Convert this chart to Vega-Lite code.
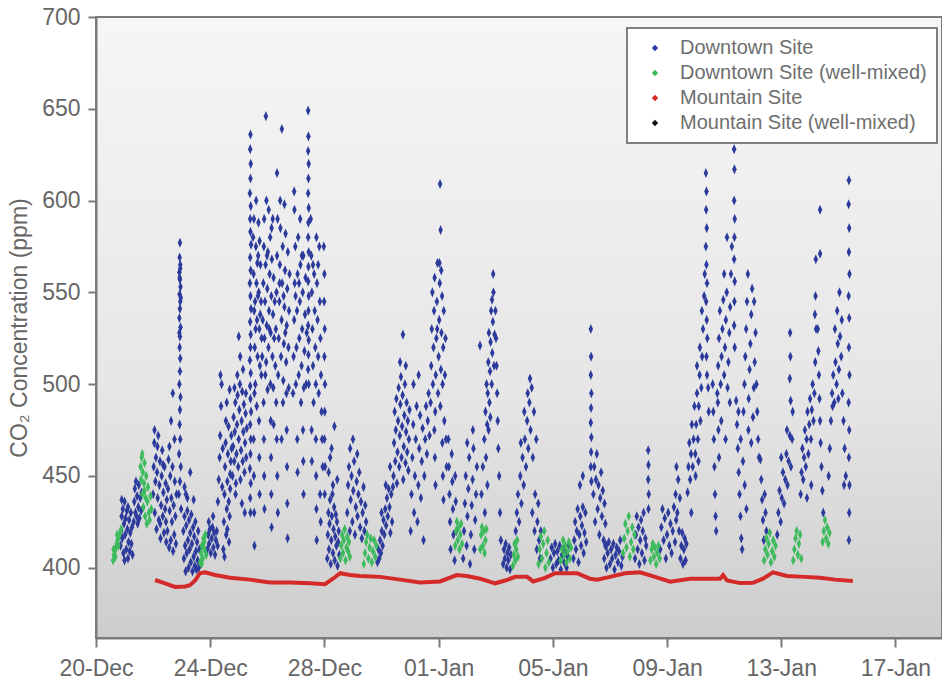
{
"$schema": "https://vega.github.io/schema/vega-lite/v6.json",
"width": 846, "height": 621,
"autosize": {"type": "none"},
"padding": {"left": 96, "top": 17, "right": 0, "bottom": 48},
"background": "#ffffff",
"config": {
 "font": "Liberation Sans",
 "view": {"fill": {"gradient": "linear", "x1": 0, "y1": 0, "x2": 0, "y2": 1, "stops": [{"offset": 0, "color": "#f6f6f6"}, {"offset": 0.6, "color": "#e6e6e6"}, {"offset": 1, "color": "#cdcdcd"}]}, "stroke": "#7a7a7a", "strokeWidth": 2},
 "axis": {"domainColor": "#7a7a7a", "domainWidth": 2, "tickColor": "#7a7a7a", "tickWidth": 2, "labelColor": "#666666", "labelFontSize": 23, "grid": false, "titleColor": "#666666", "titleFontSize": 23, "titleFontWeight": "normal"},
 "legend": {"orient": "none", "legendX": 531, "legendY": 11, "padding": 10, "strokeColor": "#7f7f7f", "strokeWidth": 2, "fillColor": "#ffffff", "labelFontSize": 20, "labelColor": "#6e6e6e", "labelLimit": 0, "symbolType": "diamond", "symbolSize": 40, "rowPadding": 5, "labelOffset": 15, "symbolOffset": 8, "symbolStrokeWidth": 0, "cornerRadius": 0}
},
"datasets": {
"dt": [
{"d":0.86,"v":412},{"d":0.88,"v":420},{"d":0.90,"v":428},{"d":0.92,"v":416},{"d":0.94,"v":432},{"d":0.96,"v":408},{"d":0.98,"v":424},{"d":1.00,"v":436},{"d":1.02,"v":418},{"d":1.04,"v":427},{"d":1.06,"v":410},{"d":1.08,"v":431},{"d":1.10,"v":421},{"d":1.12,"v":405},{"d":1.14,"v":414},{"d":1.16,"v":426},{"d":1.18,"v":409},{"d":1.20,"v":419},{"d":1.22,"v":430},{"d":1.24,"v":413},{"d":1.26,"v":422},{"d":1.28,"v":407},{"d":0.90,"v":437},{"d":1.00,"v":404},{"d":1.12,"v":433},
{"d":1.32,"v":425},{"d":1.34,"v":436},{"d":1.36,"v":443},{"d":1.38,"v":430},{"d":1.40,"v":447},{"d":1.42,"v":428},{"d":1.44,"v":439},{"d":1.46,"v":424},{"d":1.48,"v":433},{"d":1.50,"v":445},{"d":1.52,"v":427},{"d":1.55,"v":438},{"d":1.58,"v":431},{"d":1.60,"v":441},
{"d":2.00,"v":440},{"d":2.02,"v":455},{"d":2.04,"v":468},{"d":2.06,"v":430},{"d":2.08,"v":447},{"d":2.10,"v":460},{"d":2.12,"v":421},{"d":2.14,"v":452},{"d":2.16,"v":438},{"d":2.18,"v":472},{"d":2.20,"v":426},{"d":2.22,"v":445},{"d":2.24,"v":458},{"d":2.26,"v":416},{"d":2.28,"v":434},{"d":2.30,"v":450},{"d":2.32,"v":464},{"d":2.34,"v":428},{"d":2.36,"v":441},{"d":2.38,"v":419},{"d":2.40,"v":455},{"d":2.42,"v":432},{"d":2.44,"v":446},{"d":2.46,"v":414},{"d":2.48,"v":437},{"d":2.05,"v":475},{"d":2.15,"v":466},{"d":2.25,"v":424},{"d":2.35,"v":456},{"d":2.45,"v":425},
{"d":2.50,"v":420},{"d":2.52,"v":443},{"d":2.54,"v":459},{"d":2.56,"v":411},{"d":2.58,"v":431},{"d":2.60,"v":450},{"d":2.62,"v":415},{"d":2.64,"v":438},{"d":2.66,"v":425},{"d":2.68,"v":455},{"d":2.70,"v":409},{"d":2.72,"v":434},{"d":2.74,"v":418},{"d":2.76,"v":447},{"d":2.78,"v":428},{"d":2.80,"v":413},{"d":2.82,"v":440},{"d":2.57,"v":466},{"d":2.63,"v":480},{"d":2.69,"v":495},{"d":2.75,"v":470},
{"d":2.94,"v":577},{"d":2.93,"v":569},{"d":2.95,"v":565},{"d":2.92,"v":561},{"d":2.94,"v":557},{"d":2.96,"v":553},{"d":2.93,"v":549},{"d":2.95,"v":545},{"d":2.94,"v":541},{"d":2.92,"v":536},{"d":2.96,"v":531},{"d":2.94,"v":526},{"d":2.93,"v":520},{"d":2.95,"v":514},{"d":2.94,"v":507},{"d":2.92,"v":500},{"d":2.96,"v":493},{"d":2.94,"v":486},{"d":2.93,"v":478},{"d":2.95,"v":470},{"d":2.91,"v":462},{"d":2.97,"v":455},{"d":2.94,"v":447},{"d":2.90,"v":440},{"d":2.98,"v":432},{"d":2.95,"v":563},{"d":2.93,"v":558},{"d":2.97,"v":547},{"d":2.92,"v":528},
{"d":3.06,"v":420},{"d":3.08,"v":405},{"d":3.10,"v":428},{"d":3.12,"v":412},{"d":3.14,"v":398},{"d":3.16,"v":423},{"d":3.18,"v":408},{"d":3.20,"v":431},{"d":3.22,"v":415},{"d":3.24,"v":400},{"d":3.26,"v":426},{"d":3.28,"v":410},{"d":3.30,"v":419},{"d":3.32,"v":403},{"d":3.34,"v":429},{"d":3.36,"v":413},{"d":3.38,"v":398},{"d":3.40,"v":422},{"d":3.42,"v":406},{"d":3.44,"v":417},{"d":3.46,"v":401},{"d":3.48,"v":425},{"d":3.50,"v":409},{"d":3.52,"v":399},{"d":3.54,"v":414},{"d":3.56,"v":404},{"d":3.58,"v":420},{"d":3.60,"v":400},{"d":3.62,"v":410},{"d":3.10,"v":444},{"d":3.20,"v":438},{"d":3.30,"v":452},{"d":3.15,"v":440},{"d":3.42,"v":437},
{"d":3.90,"v":410},{"d":3.93,"v":418},{"d":3.96,"v":413},{"d":3.99,"v":421},{"d":4.02,"v":408},{"d":4.05,"v":416},{"d":4.08,"v":422},{"d":4.11,"v":411},{"d":4.14,"v":419},{"d":4.17,"v":407},{"d":4.20,"v":415},{"d":4.23,"v":420},{"d":4.26,"v":412},{"d":3.95,"v":425},{"d":4.10,"v":428},
{"d":4.27,"v":436},{"d":4.30,"v":448},{"d":4.33,"v":460},{"d":4.35,"v":472},{"d":4.38,"v":488},{"d":4.40,"v":500},{"d":4.42,"v":444},{"d":4.44,"v":465},{"d":4.36,"v":505},
{"d":4.46,"v":410},{"d":4.48,"v":425},{"d":4.50,"v":440},{"d":4.52,"v":455},{"d":4.54,"v":468},{"d":4.56,"v":418},{"d":4.58,"v":432},{"d":4.60,"v":447},{"d":4.62,"v":462},{"d":4.64,"v":477},{"d":4.66,"v":414},{"d":4.68,"v":428},{"d":4.70,"v":443},{"d":4.72,"v":458},{"d":4.74,"v":472},{"d":4.50,"v":406},{"d":4.55,"v":480},{"d":4.60,"v":421},{"d":4.65,"v":436},{"d":4.70,"v":451},{"d":4.75,"v":465},{"d":4.58,"v":490},{"d":4.68,"v":497},
{"d":4.78,"v":450},{"d":4.80,"v":466},{"d":4.82,"v":482},{"d":4.84,"v":458},{"d":4.86,"v":474},{"d":4.88,"v":490},{"d":4.90,"v":446},{"d":4.92,"v":462},{"d":4.94,"v":478},{"d":4.96,"v":494},{"d":4.98,"v":455},{"d":5.00,"v":470},{"d":5.02,"v":486},{"d":5.04,"v":500},{"d":5.06,"v":448},{"d":5.08,"v":464},{"d":5.10,"v":480},{"d":5.12,"v":496},{"d":5.14,"v":458},{"d":5.16,"v":474},{"d":5.18,"v":489},{"d":5.20,"v":452},{"d":5.22,"v":468},{"d":5.24,"v":484},{"d":5.26,"v":460},{"d":5.28,"v":476},{"d":4.85,"v":498},{"d":4.95,"v":505},{"d":5.05,"v":515},{"d":5.15,"v":508},{"d":5.25,"v":495},{"d":4.89,"v":440},{"d":5.11,"v":435},{"d":5.21,"v":430},{"d":5.00,"v":526},
{"d":5.41,"v":636},{"d":5.40,"v":628},{"d":5.42,"v":620},{"d":5.41,"v":612},{"d":5.39,"v":604},{"d":5.42,"v":597},{"d":5.40,"v":590},{"d":5.41,"v":583},{"d":5.43,"v":576},{"d":5.40,"v":569},{"d":5.42,"v":562},{"d":5.39,"v":555},{"d":5.41,"v":548},{"d":5.43,"v":541},{"d":5.40,"v":534},{"d":5.42,"v":527},{"d":5.41,"v":520},{"d":5.39,"v":513},{"d":5.42,"v":506},{"d":5.40,"v":499},{"d":5.41,"v":492},{"d":5.43,"v":485},{"d":5.40,"v":478},{"d":5.42,"v":470},{"d":5.41,"v":462},{"d":5.39,"v":454},{"d":5.42,"v":446},{"d":5.40,"v":438},{"d":5.41,"v":430},
{"d":5.50,"v":580},{"d":5.52,"v":560},{"d":5.54,"v":540},{"d":5.56,"v":520},{"d":5.58,"v":500},{"d":5.60,"v":575},{"d":5.62,"v":555},{"d":5.64,"v":535},{"d":5.66,"v":515},{"d":5.68,"v":570},{"d":5.70,"v":550},{"d":5.72,"v":530},{"d":5.74,"v":510},{"d":5.76,"v":565},{"d":5.78,"v":545},{"d":5.80,"v":525},{"d":5.53,"v":590},{"d":5.61,"v":600},{"d":5.69,"v":588},{"d":5.57,"v":545},{"d":5.65,"v":566},{"d":5.73,"v":578},{"d":5.79,"v":505},{"d":5.55,"v":495},{"d":5.63,"v":488},{"d":5.52,"v":470},{"d":5.53,"v":450},{"d":5.54,"v":430},{"d":5.55,"v":412},{"d":5.71,"v":480},{"d":5.72,"v":460},{"d":5.73,"v":440},{"d":5.59,"v":530},{"d":5.67,"v":548},{"d":5.75,"v":538},
{"d":5.82,"v":515},{"d":5.84,"v":535},{"d":5.86,"v":555},{"d":5.88,"v":575},{"d":5.90,"v":525},{"d":5.92,"v":545},{"d":5.94,"v":565},{"d":5.96,"v":512},{"d":5.98,"v":532},{"d":6.00,"v":552},{"d":6.02,"v":572},{"d":6.04,"v":520},{"d":6.06,"v":540},{"d":6.08,"v":560},{"d":6.10,"v":580},{"d":6.12,"v":528},{"d":6.14,"v":548},{"d":6.16,"v":568},{"d":6.18,"v":515},{"d":6.20,"v":538},{"d":6.22,"v":558},{"d":6.24,"v":525},{"d":6.26,"v":545},{"d":5.95,"v":646},{"d":5.97,"v":600},{"d":5.89,"v":590},{"d":6.05,"v":595},{"d":6.15,"v":585},{"d":5.87,"v":490},{"d":5.88,"v":470},{"d":5.89,"v":450},{"d":5.90,"v":432},{"d":6.11,"v":500},{"d":6.12,"v":480},{"d":6.13,"v":460},{"d":6.14,"v":440},{"d":6.15,"v":422},{"d":6.21,"v":498},{"d":6.22,"v":478},{"d":5.93,"v":505},{"d":6.01,"v":497},{"d":6.19,"v":590},{"d":6.07,"v":530},{"d":5.99,"v":570},
{"d":6.28,"v":510},{"d":6.30,"v":530},{"d":6.32,"v":550},{"d":6.34,"v":570},{"d":6.36,"v":590},{"d":6.38,"v":505},{"d":6.40,"v":525},{"d":6.42,"v":545},{"d":6.44,"v":565},{"d":6.46,"v":585},{"d":6.48,"v":515},{"d":6.50,"v":535},{"d":6.52,"v":555},{"d":6.54,"v":575},{"d":6.56,"v":502},{"d":6.58,"v":522},{"d":6.60,"v":542},{"d":6.62,"v":562},{"d":6.64,"v":582},{"d":6.66,"v":512},{"d":6.68,"v":532},{"d":6.70,"v":552},{"d":6.72,"v":572},{"d":6.74,"v":520},{"d":6.76,"v":540},{"d":6.78,"v":560},{"d":6.34,"v":615},{"d":6.51,"v":639},{"d":6.45,"v":600},{"d":6.60,"v":598},{"d":6.31,"v":490},{"d":6.33,"v":470},{"d":6.35,"v":450},{"d":6.37,"v":430},{"d":6.67,"v":495},{"d":6.68,"v":475},{"d":6.69,"v":455},{"d":6.70,"v":435},{"d":6.71,"v":416},{"d":6.55,"v":490},{"d":6.50,"v":470},{"d":6.75,"v":498},{"d":6.43,"v":555},{"d":6.57,"v":548},{"d":6.63,"v":528},
{"d":6.90,"v":495},{"d":6.92,"v":515},{"d":6.94,"v":535},{"d":6.96,"v":555},{"d":6.98,"v":575},{"d":7.00,"v":500},{"d":7.02,"v":520},{"d":7.04,"v":540},{"d":7.06,"v":560},{"d":7.08,"v":580},{"d":7.10,"v":505},{"d":7.12,"v":525},{"d":7.14,"v":545},{"d":7.16,"v":565},{"d":7.18,"v":490},{"d":7.20,"v":510},{"d":7.22,"v":530},{"d":7.24,"v":550},{"d":7.26,"v":570},{"d":7.28,"v":498},{"d":7.30,"v":518},{"d":7.32,"v":538},{"d":7.34,"v":558},{"d":7.36,"v":500},{"d":7.38,"v":528},{"d":6.94,"v":605},{"d":6.95,"v":595},{"d":7.15,"v":590},{"d":7.05,"v":470},{"d":7.06,"v":452},{"d":7.25,"v":475},{"d":7.26,"v":458},{"d":7.27,"v":440},{"d":6.99,"v":548},{"d":7.11,"v":555},{"d":7.21,"v":570},
{"d":7.43,"v":649},{"d":7.44,"v":635},{"d":7.43,"v":627},{"d":7.45,"v":620},{"d":7.44,"v":612},{"d":7.43,"v":604},{"d":7.45,"v":596},{"d":7.44,"v":588},{"d":7.43,"v":580},{"d":7.45,"v":572},{"d":7.44,"v":564},{"d":7.43,"v":556},{"d":7.45,"v":548},{"d":7.44,"v":540},{"d":7.43,"v":532},{"d":7.45,"v":524},{"d":7.44,"v":516},{"d":7.43,"v":508},{"d":7.45,"v":500},
{"d":7.52,"v":590},{"d":7.54,"v":570},{"d":7.56,"v":550},{"d":7.58,"v":530},{"d":7.60,"v":510},{"d":7.62,"v":490},{"d":7.64,"v":560},{"d":7.66,"v":540},{"d":7.68,"v":520},{"d":7.70,"v":500},{"d":7.72,"v":580},{"d":7.74,"v":555},{"d":7.76,"v":535},{"d":7.78,"v":515},{"d":7.80,"v":495},{"d":7.82,"v":575},{"d":7.84,"v":545},{"d":7.86,"v":525},{"d":7.88,"v":505},{"d":7.90,"v":485},{"d":7.92,"v":470},{"d":7.94,"v":455},{"d":7.70,"v":470},{"d":7.71,"v":450},{"d":7.72,"v":432},{"d":7.73,"v":415},{"d":7.55,"v":475},{"d":7.56,"v":458},{"d":7.85,"v":440},{"d":7.87,"v":425},{"d":7.60,"v":565},{"d":7.78,"v":565},
{"d":7.98,"v":575},{"d":8.00,"v":560},{"d":7.99,"v":545},{"d":8.01,"v":530},{"d":8.00,"v":515},{"d":8.02,"v":500},{"d":8.01,"v":485},{"d":8.00,"v":470},{"d":8.02,"v":455},{"d":8.01,"v":440},
{"d":8.10,"v":405},{"d":8.12,"v":418},{"d":8.14,"v":430},{"d":8.16,"v":410},{"d":8.18,"v":424},{"d":8.20,"v":437},{"d":8.22,"v":402},{"d":8.24,"v":415},{"d":8.26,"v":428},{"d":8.28,"v":440},{"d":8.30,"v":408},{"d":8.32,"v":421},{"d":8.34,"v":433},{"d":8.36,"v":404},{"d":8.38,"v":417},{"d":8.40,"v":429},{"d":8.42,"v":412},{"d":8.44,"v":425},{"d":8.46,"v":401},{"d":8.48,"v":414},{"d":8.50,"v":420},{"d":8.52,"v":407},{"d":8.15,"v":452},{"d":8.25,"v":465},{"d":8.35,"v":477},{"d":8.45,"v":448},{"d":8.20,"v":460},{"d":8.30,"v":445},
{"d":8.80,"v":430},{"d":8.83,"v":445},{"d":8.86,"v":455},{"d":8.89,"v":420},{"d":8.92,"v":437},{"d":8.95,"v":450},{"d":8.98,"v":425},{"d":9.01,"v":442},{"d":9.04,"v":458},{"d":9.07,"v":418},{"d":9.10,"v":433},{"d":9.13,"v":447},{"d":9.16,"v":428},{"d":9.19,"v":440},{"d":9.22,"v":452},{"d":9.25,"v":422},{"d":9.28,"v":436},{"d":9.31,"v":416},{"d":9.34,"v":430},{"d":9.37,"v":444},{"d":9.40,"v":420},{"d":9.43,"v":434},{"d":9.46,"v":425},{"d":8.90,"v":465},{"d":9.00,"v":470},{"d":9.15,"v":462},
{"d":9.86,"v":403},{"d":9.89,"v":410},{"d":9.92,"v":405},{"d":9.95,"v":415},{"d":9.98,"v":408},{"d":10.01,"v":420},{"d":10.04,"v":412},{"d":10.07,"v":426},{"d":10.10,"v":418},{"d":10.13,"v":432},{"d":10.16,"v":423},{"d":10.19,"v":438},{"d":10.22,"v":428},{"d":10.25,"v":443},{"d":10.28,"v":433},{"d":10.31,"v":419},{"d":10.34,"v":440},{"d":10.37,"v":425},{"d":10.40,"v":444},{"d":10.00,"v":430},{"d":10.15,"v":445},{"d":10.30,"v":455},
{"d":10.42,"v":450},{"d":10.44,"v":468},{"d":10.46,"v":485},{"d":10.48,"v":458},{"d":10.50,"v":475},{"d":10.52,"v":492},{"d":10.54,"v":446},{"d":10.56,"v":463},{"d":10.58,"v":480},{"d":10.60,"v":498},{"d":10.62,"v":455},{"d":10.64,"v":472},{"d":10.66,"v":489},{"d":10.68,"v":504},{"d":10.70,"v":460},{"d":10.72,"v":477},{"d":10.74,"v":494},{"d":10.76,"v":448},{"d":10.78,"v":466},{"d":10.80,"v":483},{"d":10.82,"v":500},{"d":10.84,"v":457},{"d":10.86,"v":474},{"d":10.88,"v":490},{"d":10.90,"v":463},{"d":10.92,"v":480},{"d":10.94,"v":453},{"d":10.96,"v":470},{"d":10.98,"v":486},{"d":10.75,"v":527},{"d":10.65,"v":512},{"d":10.85,"v":510},
{"d":11.02,"v":420},{"d":11.05,"v":440},{"d":11.08,"v":460},{"d":11.11,"v":478},{"d":11.14,"v":430},{"d":11.17,"v":450},{"d":11.20,"v":470},{"d":11.23,"v":488},{"d":11.26,"v":425},{"d":11.29,"v":445},{"d":11.32,"v":465},{"d":11.35,"v":483},{"d":11.38,"v":438},{"d":11.41,"v":458},{"d":11.44,"v":476},{"d":11.47,"v":415},{"d":11.50,"v":450},{"d":11.53,"v":470},{"d":11.56,"v":488},{"d":11.59,"v":462},{"d":11.62,"v":480},{"d":11.65,"v":495},{"d":11.68,"v":472},{"d":11.12,"v":500},{"d":11.30,"v":505},
{"d":11.72,"v":490},{"d":11.74,"v":510},{"d":11.76,"v":530},{"d":11.78,"v":550},{"d":11.80,"v":500},{"d":11.82,"v":520},{"d":11.84,"v":540},{"d":11.86,"v":558},{"d":11.88,"v":485},{"d":11.90,"v":505},{"d":11.92,"v":525},{"d":11.94,"v":545},{"d":11.96,"v":566},{"d":11.98,"v":495},{"d":12.00,"v":515},{"d":12.02,"v":535},{"d":12.04,"v":555},{"d":12.06,"v":488},{"d":12.08,"v":508},{"d":12.10,"v":528},{"d":12.12,"v":548},{"d":12.14,"v":500},{"d":12.16,"v":520},{"d":12.18,"v":540},{"d":12.20,"v":480},{"d":12.22,"v":505},{"d":12.24,"v":525},{"d":12.26,"v":470},{"d":12.28,"v":455},{"d":12.05,"v":609},{"d":12.07,"v":584},{"d":12.03,"v":566},{"d":11.85,"v":475},{"d":11.87,"v":460},{"d":11.89,"v":445},{"d":12.13,"v":468},{"d":12.15,"v":450},{"d":12.17,"v":437},{"d":11.95,"v":530},{"d":12.09,"v":562},
{"d":12.34,"v":470},{"d":12.36,"v":455},{"d":12.38,"v":440},{"d":12.40,"v":425},{"d":12.42,"v":410},{"d":12.46,"v":462},{"d":12.48,"v":447},{"d":12.50,"v":432},{"d":12.52,"v":418},{"d":12.56,"v":404},{"d":12.58,"v":450},{"d":12.60,"v":436},{"d":12.62,"v":420},
{"d":12.86,"v":405},{"d":12.89,"v":420},{"d":12.92,"v":435},{"d":12.95,"v":450},{"d":12.98,"v":412},{"d":13.01,"v":428},{"d":13.04,"v":443},{"d":13.07,"v":460},{"d":13.10,"v":402},{"d":13.13,"v":418},{"d":13.16,"v":434},{"d":13.19,"v":448},{"d":13.22,"v":465},{"d":13.25,"v":410},{"d":13.28,"v":426},{"d":13.31,"v":440},{"d":13.34,"v":455},{"d":13.00,"v":468},{"d":13.20,"v":475},
{"d":13.45,"v":521},{"d":13.50,"v":440},{"d":13.55,"v":455},{"d":13.60,"v":470},{"d":13.64,"v":485},{"d":13.68,"v":500},{"d":13.70,"v":478},{"d":13.72,"v":495},{"d":13.74,"v":512},{"d":13.76,"v":528},{"d":13.78,"v":490},{"d":13.80,"v":507},{"d":13.82,"v":523},{"d":13.84,"v":540},{"d":13.86,"v":500},{"d":13.88,"v":517},{"d":13.90,"v":534},{"d":13.92,"v":550},{"d":13.94,"v":510},{"d":13.96,"v":527},{"d":13.91,"v":560},{"d":13.66,"v":460},{"d":13.71,"v":445},{"d":13.75,"v":475},{"d":13.81,"v":482},{"d":13.87,"v":546},{"d":13.62,"v":430},
{"d":13.99,"v":540},{"d":14.01,"v":525},{"d":14.03,"v":510},{"d":14.05,"v":495},{"d":14.07,"v":480},{"d":14.09,"v":465},{"d":14.12,"v":450},{"d":14.15,"v":430},{"d":14.18,"v":415},
{"d":14.26,"v":402},{"d":14.29,"v":410},{"d":14.32,"v":405},{"d":14.35,"v":413},{"d":14.38,"v":400},{"d":14.41,"v":408},{"d":14.44,"v":404},{"d":14.47,"v":411},{"d":14.50,"v":399},{"d":14.53,"v":407},
{"d":14.70,"v":420},{"d":14.74,"v":430},{"d":14.78,"v":440},{"d":14.82,"v":425},{"d":14.86,"v":450},{"d":14.90,"v":435},{"d":14.94,"v":460},{"d":14.98,"v":445},{"d":15.02,"v":470},{"d":15.06,"v":455},{"d":15.10,"v":480},{"d":15.14,"v":465},{"d":15.18,"v":490},{"d":15.22,"v":475},{"d":15.26,"v":498},{"d":15.30,"v":460},{"d":15.34,"v":485},{"d":15.38,"v":440},{"d":15.42,"v":470},{"d":15.20,"v":503},{"d":15.12,"v":495},{"d":15.28,"v":430},{"d":15.36,"v":420},{"d":15.44,"v":410},{"d":14.88,"v":468},{"d":15.00,"v":485},
{"d":15.46,"v":425},{"d":15.49,"v":435},{"d":15.52,"v":415},{"d":15.55,"v":405},{"d":15.58,"v":420},
{"d":15.92,"v":405},{"d":15.96,"v":411},{"d":16.00,"v":400},{"d":16.04,"v":408},{"d":16.08,"v":413},{"d":16.12,"v":402},{"d":16.16,"v":409},{"d":16.20,"v":404},{"d":16.24,"v":412},{"d":16.28,"v":399},{"d":16.32,"v":407},{"d":16.36,"v":410},{"d":16.40,"v":403},{"d":16.44,"v":408},{"d":16.48,"v":400},{"d":16.52,"v":406},{"d":16.56,"v":412},
{"d":16.72,"v":405},{"d":16.75,"v":415},{"d":16.78,"v":425},{"d":16.81,"v":410},{"d":16.84,"v":420},{"d":16.87,"v":432},{"d":16.90,"v":403},{"d":16.93,"v":418},{"d":16.96,"v":428},{"d":16.99,"v":412},{"d":17.02,"v":423},{"d":17.05,"v":433},{"d":17.08,"v":408},{"d":17.11,"v":419},{"d":17.14,"v":430},{"d":17.17,"v":414},{"d":16.95,"v":445},{"d":17.05,"v":450},
{"d":17.33,"v":530},{"d":17.34,"v":515},{"d":17.33,"v":505},{"d":17.35,"v":495},{"d":17.34,"v":487},{"d":17.33,"v":479},{"d":17.35,"v":471},{"d":17.34,"v":463},{"d":17.33,"v":455},{"d":17.35,"v":447},
{"d":17.42,"v":440},{"d":17.45,"v":455},{"d":17.48,"v":425},{"d":17.51,"v":448},{"d":17.54,"v":462},{"d":17.57,"v":432},{"d":17.60,"v":445},{"d":17.63,"v":418},{"d":17.66,"v":438},{"d":17.69,"v":452},{"d":17.72,"v":428},{"d":17.75,"v":442},{"d":17.78,"v":415},{"d":17.81,"v":435},{"d":17.84,"v":424},{"d":17.87,"v":412},
{"d":17.80,"v":405},{"d":17.84,"v":412},{"d":17.88,"v":400},{"d":17.92,"v":408},{"d":17.96,"v":414},{"d":18.00,"v":402},{"d":18.04,"v":410},{"d":18.08,"v":405},{"d":18.12,"v":413},{"d":18.16,"v":399},{"d":18.20,"v":407},{"d":18.24,"v":411},{"d":18.28,"v":403},{"d":18.32,"v":409},{"d":18.36,"v":415},{"d":18.40,"v":401},{"d":18.44,"v":406},
{"d":18.88,"v":405},{"d":18.91,"v":418},{"d":18.94,"v":428},{"d":18.97,"v":410},{"d":19.00,"v":422},{"d":19.03,"v":402},{"d":19.06,"v":415},{"d":19.09,"v":426},{"d":19.12,"v":408},{"d":19.15,"v":420},{"d":19.18,"v":430},{"d":19.21,"v":404},{"d":19.24,"v":416},{"d":19.27,"v":412},
{"d":19.34,"v":464},{"d":19.35,"v":456},{"d":19.34,"v":448},{"d":19.36,"v":440},{"d":19.35,"v":432},
{"d":19.76,"v":410},{"d":19.80,"v":422},{"d":19.84,"v":432},{"d":19.88,"v":415},{"d":19.92,"v":427},{"d":19.96,"v":405},{"d":20.00,"v":418},{"d":20.04,"v":430},{"d":20.08,"v":412},{"d":20.12,"v":424},{"d":20.16,"v":408},{"d":20.20,"v":420},{"d":20.24,"v":433},{"d":20.28,"v":414},{"d":20.32,"v":426},
{"d":20.30,"v":440},{"d":20.33,"v":455},{"d":20.36,"v":430},{"d":20.39,"v":448},{"d":20.42,"v":420},{"d":20.45,"v":438},
{"d":20.47,"v":405},{"d":20.50,"v":412},{"d":20.53,"v":419},{"d":20.56,"v":402},{"d":20.59,"v":410},{"d":20.62,"v":416},{"d":20.65,"v":404},{"d":20.68,"v":413},
{"d":20.72,"v":441},{"d":20.75,"v":455},{"d":20.78,"v":468},{"d":20.81,"v":448},{"d":20.84,"v":462},{"d":20.87,"v":478},{"d":20.90,"v":455},{"d":20.93,"v":470},{"d":20.96,"v":488},{"d":20.99,"v":462},{"d":21.02,"v":478},{"d":21.05,"v":495},{"d":21.08,"v":470},{"d":21.11,"v":488},{"d":21.14,"v":505},{"d":21.17,"v":480},{"d":21.20,"v":498},{"d":21.23,"v":515},{"d":21.26,"v":530},{"d":21.00,"v":450},{"d":21.10,"v":458},{"d":21.15,"v":520},{"d":21.22,"v":540},{"d":20.85,"v":430},{"d":21.05,"v":510},
{"d":21.36,"v":615},{"d":21.38,"v":605},{"d":21.37,"v":595},{"d":21.39,"v":585},{"d":21.36,"v":575},{"d":21.38,"v":565},{"d":21.40,"v":555},{"d":21.37,"v":545},{"d":21.39,"v":535},{"d":21.41,"v":525},{"d":21.38,"v":515},{"d":21.40,"v":505},{"d":21.30,"v":548},{"d":21.32,"v":560},{"d":21.44,"v":498},{"d":21.46,"v":485},
{"d":21.60,"v":500},{"d":21.62,"v":485},{"d":21.64,"v":470},{"d":21.66,"v":455},{"d":21.68,"v":440},{"d":21.70,"v":428},{"d":21.72,"v":420},{"d":21.78,"v":490},{"d":21.80,"v":475},{"d":21.82,"v":460},
{"d":21.76,"v":495},{"d":21.79,"v":510},{"d":21.82,"v":525},{"d":21.85,"v":540},{"d":21.88,"v":500},{"d":21.91,"v":515},{"d":21.94,"v":530},{"d":21.97,"v":546},{"d":22.00,"v":505},{"d":22.03,"v":520},{"d":22.06,"v":535},{"d":22.09,"v":550},{"d":22.12,"v":498},{"d":22.15,"v":512},{"d":22.18,"v":528},{"d":22.21,"v":542},{"d":22.24,"v":560},{"d":22.27,"v":575},{"d":22.00,"v":560},{"d":22.10,"v":580},{"d":21.90,"v":480},{"d":22.20,"v":490},{"d":22.05,"v":470},
{"d":22.35,"v":628},{"d":22.36,"v":617},{"d":22.35,"v":600},{"d":22.37,"v":590},{"d":22.36,"v":580},{"d":22.35,"v":568},{"d":22.37,"v":556},{"d":22.36,"v":545},{"d":22.35,"v":532},{"d":22.37,"v":520},
{"d":22.42,"v":491},{"d":22.45,"v":478},{"d":22.48,"v":465},{"d":22.51,"v":452},{"d":22.54,"v":440},{"d":22.57,"v":428},{"d":22.60,"v":416},{"d":22.63,"v":410},{"d":22.50,"v":485},{"d":22.58,"v":470},{"d":22.66,"v":458},{"d":22.72,"v":445},{"d":22.78,"v":432},
{"d":22.68,"v":485},{"d":22.71,"v":500},{"d":22.74,"v":515},{"d":22.77,"v":530},{"d":22.80,"v":545},{"d":22.83,"v":560},{"d":22.86,"v":492},{"d":22.89,"v":508},{"d":22.92,"v":522},{"d":22.95,"v":538},{"d":22.98,"v":552},{"d":23.01,"v":482},{"d":23.04,"v":498},{"d":23.07,"v":512},{"d":23.10,"v":528},{"d":23.13,"v":500},{"d":23.16,"v":485},{"d":23.19,"v":470},{"d":23.22,"v":460},{"d":22.85,"v":475},{"d":22.95,"v":468},{"d":23.05,"v":545},
{"d":23.27,"v":459},{"d":23.30,"v":448},{"d":23.33,"v":437},{"d":23.36,"v":426},{"d":23.39,"v":415},{"d":23.42,"v":440},{"d":23.45,"v":430},{"d":23.48,"v":420},
{"d":23.86,"v":418},{"d":23.90,"v":430},{"d":23.94,"v":442},{"d":23.98,"v":425},{"d":24.02,"v":438},{"d":24.06,"v":452},{"d":24.10,"v":435},{"d":24.14,"v":448},{"d":24.18,"v":462},{"d":24.22,"v":445},{"d":24.26,"v":458},{"d":24.30,"v":472},{"d":24.34,"v":455},{"d":24.38,"v":470},{"d":24.40,"v":485},{"d":24.31,"v":528},{"d":24.32,"v":515},{"d":24.30,"v":503},{"d":24.33,"v":491},{"d":24.00,"v":460},{"d":24.20,"v":475},
{"d":24.68,"v":440},{"d":24.71,"v":452},{"d":24.74,"v":465},{"d":24.77,"v":448},{"d":24.80,"v":460},{"d":24.83,"v":475},{"d":24.86,"v":455},{"d":24.89,"v":470},{"d":24.92,"v":485},{"d":24.95,"v":462},{"d":24.98,"v":478},{"d":25.01,"v":492},{"d":25.04,"v":470},{"d":25.07,"v":486},{"d":25.10,"v":500},{"d":25.13,"v":480},{"d":25.16,"v":495},{"d":25.19,"v":512},{"d":25.22,"v":530},{"d":25.20,"v":548},{"d":25.21,"v":568},{"d":25.36,"v":595},{"d":25.18,"v":538},{"d":24.90,"v":438},{"d":25.05,"v":445},
{"d":25.28,"v":530},{"d":25.30,"v":518},{"d":25.32,"v":505},{"d":25.34,"v":492},{"d":25.36,"v":480},{"d":25.38,"v":468},{"d":25.41,"v":455},{"d":25.44,"v":442},{"d":25.47,"v":430},{"d":25.36,"v":571},
{"d":25.66,"v":450},{"d":25.70,"v":465},{"d":25.74,"v":480},{"d":25.78,"v":495},{"d":25.82,"v":505},{"d":25.86,"v":490},{"d":25.90,"v":512},{"d":25.94,"v":500},{"d":25.98,"v":522},{"d":26.02,"v":508},{"d":26.06,"v":526},{"d":26.10,"v":515},{"d":26.14,"v":495},{"d":26.18,"v":480},{"d":26.22,"v":465},{"d":26.26,"v":450},{"d":25.88,"v":530},{"d":25.96,"v":540},{"d":26.04,"v":550},{"d":26.12,"v":535},{"d":26.20,"v":445},{"d":25.80,"v":488},{"d":26.00,"v":492},
{"d":26.37,"v":611},{"d":26.36,"v":598},{"d":26.38,"v":585},{"d":26.37,"v":572},{"d":26.39,"v":560},{"d":26.36,"v":548},{"d":26.38,"v":536},{"d":26.37,"v":520},{"d":26.39,"v":505},{"d":26.36,"v":490},{"d":26.38,"v":475},{"d":26.37,"v":460},{"d":26.39,"v":445},{"d":26.38,"v":430},{"d":26.37,"v":415}
],
"wm": [
{"d":0.60,"v":404},{"d":0.63,"v":407},{"d":0.66,"v":409},{"d":0.70,"v":411},{"d":0.73,"v":413},{"d":0.76,"v":415},{"d":0.80,"v":417},{"d":0.84,"v":419},{"d":0.88,"v":421},{"d":0.62,"v":410},{"d":0.68,"v":406},{"d":0.74,"v":418},{"d":0.78,"v":412},
{"d":1.56,"v":455},{"d":1.58,"v":448},{"d":1.60,"v":460},{"d":1.62,"v":440},{"d":1.64,"v":452},{"d":1.66,"v":433},{"d":1.68,"v":446},{"d":1.70,"v":457},{"d":1.72,"v":428},{"d":1.74,"v":438},{"d":1.76,"v":450},{"d":1.78,"v":424},{"d":1.80,"v":436},{"d":1.82,"v":444},{"d":1.85,"v":430},{"d":1.88,"v":426},{"d":1.91,"v":439},{"d":1.94,"v":432},{"d":1.62,"v":462},{"d":1.70,"v":442},
{"d":3.65,"v":403},{"d":3.68,"v":408},{"d":3.71,"v":412},{"d":3.74,"v":405},{"d":3.77,"v":416},{"d":3.80,"v":410},{"d":3.83,"v":418},{"d":3.86,"v":407},{"d":3.70,"v":402},{"d":3.79,"v":414},
{"d":8.56,"v":405},{"d":8.59,"v":412},{"d":8.62,"v":418},{"d":8.65,"v":408},{"d":8.68,"v":415},{"d":8.71,"v":421},{"d":8.74,"v":404},{"d":8.77,"v":411},{"d":8.80,"v":417},{"d":8.83,"v":409},{"d":8.86,"v":414},{"d":8.89,"v":406},
{"d":9.38,"v":402},{"d":9.42,"v":408},{"d":9.46,"v":414},{"d":9.50,"v":418},{"d":9.54,"v":405},{"d":9.58,"v":411},{"d":9.62,"v":416},{"d":9.66,"v":403},{"d":9.70,"v":409},{"d":9.74,"v":415},{"d":9.78,"v":406},{"d":9.82,"v":412},
{"d":12.58,"v":412},{"d":12.61,"v":420},{"d":12.64,"v":425},{"d":12.67,"v":415},{"d":12.70,"v":422},{"d":12.73,"v":410},{"d":12.76,"v":418},{"d":12.79,"v":424},{"d":12.82,"v":413},
{"d":13.46,"v":410},{"d":13.49,"v":418},{"d":13.52,"v":422},{"d":13.55,"v":412},{"d":13.58,"v":420},{"d":13.61,"v":408},{"d":13.64,"v":415},{"d":13.67,"v":421},
{"d":14.60,"v":401},{"d":14.63,"v":407},{"d":14.66,"v":413},{"d":14.69,"v":404},{"d":14.72,"v":410},{"d":14.75,"v":415},{"d":14.78,"v":406},
{"d":15.50,"v":402},{"d":15.54,"v":410},{"d":15.58,"v":417},{"d":15.62,"v":405},{"d":15.66,"v":413},{"d":15.70,"v":420},{"d":15.74,"v":400},{"d":15.78,"v":408},{"d":15.82,"v":415},{"d":15.86,"v":403},
{"d":16.28,"v":404},{"d":16.32,"v":410},{"d":16.36,"v":415},{"d":16.40,"v":407},{"d":16.44,"v":412},{"d":16.48,"v":403},{"d":16.52,"v":409},{"d":16.56,"v":414},{"d":16.60,"v":405},{"d":16.64,"v":411},
{"d":18.46,"v":408},{"d":18.50,"v":416},{"d":18.54,"v":424},{"d":18.58,"v":411},{"d":18.62,"v":420},{"d":18.66,"v":428},{"d":18.70,"v":406},{"d":18.74,"v":414},{"d":18.78,"v":422},{"d":18.82,"v":410},{"d":18.86,"v":418},
{"d":19.42,"v":404},{"d":19.46,"v":410},{"d":19.50,"v":413},{"d":19.54,"v":406},{"d":19.58,"v":411},{"d":19.62,"v":402},{"d":19.66,"v":408},{"d":19.70,"v":412},{"d":19.74,"v":405},
{"d":23.40,"v":404},{"d":23.44,"v":410},{"d":23.48,"v":416},{"d":23.52,"v":407},{"d":23.56,"v":413},{"d":23.60,"v":419},{"d":23.64,"v":403},{"d":23.68,"v":409},{"d":23.72,"v":415},{"d":23.76,"v":406},{"d":23.80,"v":412},
{"d":24.42,"v":404},{"d":24.46,"v":410},{"d":24.50,"v":416},{"d":24.54,"v":420},{"d":24.58,"v":407},{"d":24.62,"v":413},{"d":24.66,"v":418},{"d":24.70,"v":405},
{"d":25.45,"v":414},{"d":25.49,"v":420},{"d":25.53,"v":426},{"d":25.57,"v":416},{"d":25.61,"v":422},{"d":25.65,"v":413},{"d":25.69,"v":419}
],
"mt": [
{"d":2.07,"v":393.3},{"d":2.42,"v":391.5},{"d":2.77,"v":389.5},{"d":3.12,"v":389.8},{"d":3.29,"v":390.5},{"d":3.47,"v":393},{"d":3.64,"v":397},{"d":3.82,"v":397.5},{"d":4.17,"v":396},{"d":4.69,"v":394.5},{"d":5.39,"v":393.5},{"d":6.09,"v":392},{"d":6.80,"v":392},{"d":7.50,"v":391.5},{"d":8.02,"v":391},{"d":8.30,"v":394},{"d":8.55,"v":397},{"d":8.90,"v":396},{"d":9.25,"v":395.5},{"d":9.95,"v":395},{"d":10.65,"v":393.5},{"d":11.35,"v":392},{"d":12.05,"v":392.5},{"d":12.64,"v":396},{"d":12.99,"v":395.5},{"d":13.45,"v":394},{"d":13.98,"v":391.5},{"d":14.33,"v":393},{"d":14.68,"v":395},{"d":15.10,"v":395},{"d":15.31,"v":392.5},{"d":15.73,"v":394.5},{"d":16.08,"v":397},{"d":16.85,"v":397},{"d":17.30,"v":394},{"d":17.55,"v":393.4},{"d":18.00,"v":395},{"d":18.53,"v":397},{"d":19.05,"v":397.5},{"d":19.58,"v":395},{"d":20.11,"v":392.4},{"d":20.81,"v":394},{"d":21.86,"v":394},{"d":21.96,"v":396},{"d":22.10,"v":393},{"d":22.56,"v":391.6},{"d":23.01,"v":391.8},{"d":23.36,"v":394},{"d":23.71,"v":397.5},{"d":24.20,"v":395.5},{"d":24.83,"v":395},{"d":25.36,"v":394.5},{"d":25.88,"v":393.5},{"d":26.51,"v":392.8}
]
},
"layer": [
{
 "data": {"name": "dt"},
 "mark": {"type": "point", "filled": true, "shape": "M0,-1.6L0.7,0L0,1.6L-0.7,0Z", "size": 40, "opacity": 1},
 "encoding": {
  "x": {"field": "d", "type": "quantitative", "scale": {"domain": [0, 29.63], "nice": false, "zero": false},
        "axis": {"values": [0, 4, 8, 12, 16, 20, 24, 28], "labelExpr": "timeFormat(datetime(2012, 11, 20 + datum.value), '%d-%b')", "title": null, "tickSize": 9, "labelPadding": 10, "labelFlush": false, "labelOverlap": false}},
  "y": {"field": "v", "type": "quantitative", "scale": {"domain": [361.7, 700], "nice": false, "zero": false},
        "axis": {"values": [400, 450, 500, 550, 600, 650, 700], "title": "CO₂ Concentration (ppm)", "tickSize": 8, "labelPadding": 8, "titlePadding": 10, "labelFlush": false}},
  "color": {"datum": "Downtown Site", "type": "nominal",
            "scale": {"domain": ["Downtown Site", "Downtown Site (well-mixed)", "Mountain Site", "Mountain Site (well-mixed)"], "range": ["#2c3a9c", "#3dbb5c", "#d42a2a", "#111111"]},
            "legend": {"title": null}}
 }
},
{
 "data": {"name": "wm"},
 "mark": {"type": "point", "filled": true, "shape": "M0,-1.6L0.7,0L0,1.6L-0.7,0Z", "size": 40, "opacity": 1},
 "encoding": {
  "x": {"field": "d", "type": "quantitative"},
  "y": {"field": "v", "type": "quantitative"},
  "color": {"datum": "Downtown Site (well-mixed)", "type": "nominal"}
 }
},
{
 "data": {"name": "mt"},
 "mark": {"type": "line", "strokeWidth": 4},
 "encoding": {
  "x": {"field": "d", "type": "quantitative"},
  "y": {"field": "v", "type": "quantitative"},
  "color": {"datum": "Mountain Site", "type": "nominal"}
 }
}
]
}
